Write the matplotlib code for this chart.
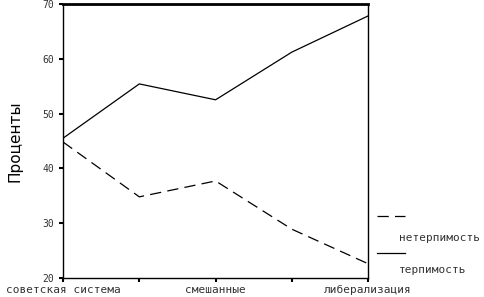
import matplotlib
matplotlib.use("Agg")
import matplotlib.pyplot as plt
from matplotlib.lines import Line2D

categories = ["советская система", "", "смешанные", "", "либерализация"]
netolerance = [44.8, 34.8, 37.7, 28.9, 22.6]
tolerance = [45.5, 55.4, 52.5, 61.2, 67.8]
y_ticks = [20, 30, 40, 50, 60, 70]

fig = plt.figure(figsize=(4.85, 2.97), dpi=100)
ax = fig.add_axes([0.130, 0.064, 0.629, 0.923])

x = list(range(len(categories)))
ax.plot(x, netolerance, color="black", linewidth=0.9, linestyle=(0, (9, 5)))
ax.plot(x, tolerance, color="black", linewidth=0.9)

ax.set_xlim(0, len(categories) - 1)
ax.set_ylim(20, 70)
ax.set_yticks(y_ticks)
ax.set_xticks(x)
ax.set_xticklabels(categories, fontsize=8, family="DejaVu Sans Mono", color="#333333")
ax.set_yticklabels([str(v) for v in y_ticks], fontsize=7, family="DejaVu Sans Mono", color="#333333")
ax.tick_params(direction="out", length=3, width=1.5, color="black")
ax.tick_params(axis="x", pad=2)
for side in ["left", "bottom", "right"]:
    ax.spines[side].set_linewidth(1)
ax.spines["top"].set_linewidth(2)
ax.set_ylabel("Проценты", fontsize=11, labelpad=14)

# легенда справа: образец линии над подписью
fig.add_artist(Line2D([0.778, 0.836], [0.272, 0.272], color="black", linewidth=0.9,
                      linestyle=(0, (9, 5))))
fig.text(0.823, 0.19, "нетерпимость", fontsize=8, family="DejaVu Sans Mono", color="#333333")
fig.add_artist(Line2D([0.778, 0.836], [0.148, 0.148], color="black", linewidth=0.9))
fig.text(0.823, 0.081, "терпимость", fontsize=8, family="DejaVu Sans Mono", color="#333333")

fig.savefig("out.png", dpi=100)
